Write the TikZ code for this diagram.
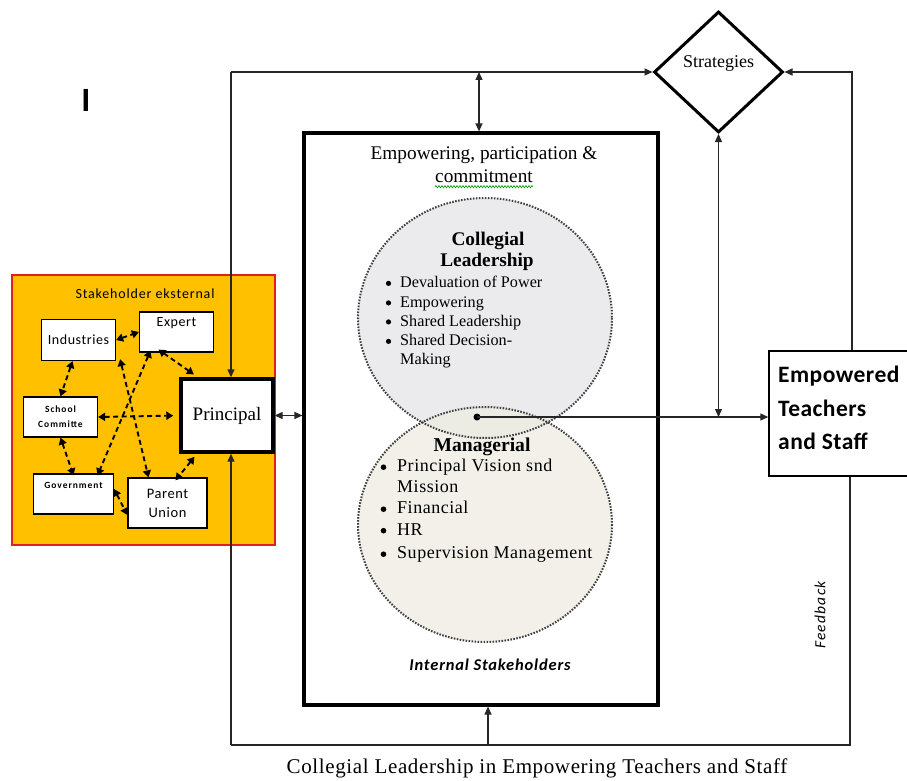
\documentclass[tikz,border=0pt]{standalone}
\usepackage{fontspec}
\setmainfont{Liberation Serif}
\newfontfamily\calfont{Carlito}
\usetikzlibrary{arrows.meta,shapes.geometric,decorations.pathmorphing}
\definecolor{extorange}{HTML}{FFC000}
\definecolor{extred}{HTML}{E02020}
\definecolor{cOne}{HTML}{EBEBED}
\definecolor{cTwo}{HTML}{EDEBE2}
\begin{document}
\begin{tikzpicture}[x=1pt,y=-1pt,
  sbox/.style={draw=black, fill=white, line width=1.2pt, inner sep=1pt, align=center,
    font=\calfont\fontsize{14}{17}\selectfont\addfontfeature{LetterSpace=4}},
  smallbox/.style={sbox, font=\calfont\bfseries\fontsize{9.5}{15}\selectfont\addfontfeature{LetterSpace=10}},
  conn/.style={line width=1.2pt, draw=black!85},
  tip/.style={-{Triangle[length=8pt,width=7pt]}},
  dtip/.style={{Triangle[length=8pt,width=7pt]}-{Triangle[length=8pt,width=7pt]}},
  dasharrow/.style={line width=1.9pt, dash pattern=on 5pt off 3.5pt,
    {Triangle[length=7pt,width=8pt]}-{Triangle[length=7pt,width=8pt]}},
  circtext/.style={inner sep=0pt, anchor=west, text height=0.7em, text depth=0.2em},
  ring/.style={draw=black!75, line width=2pt, dash pattern=on 1.6pt off 1.4pt},
  bul/.style={fill=black},
]
\useasboundingbox (0,0) rectangle (907,781);

% cursor-like letter
\node[font=\calfont\bfseries\fontsize{34}{34}\selectfont, inner sep=0pt] (cursorI) at (86,100) {I};

% external stakeholder panel
\node[draw=extred, fill=extorange, line width=1.2pt, minimum width=263, minimum height=270, inner sep=0pt] (ext) at (143.5,410) {};
\node[font=\calfont\fontsize{14}{16}\selectfont\addfontfeature{LetterSpace=6}, inner sep=0pt] (extlabel) at (145,294) {Stakeholder eksternal};

% outer loop coordinates
\coordinate (tl) at (231,72);
\coordinate (bl) at (231,745);
\coordinate (br) at (850,745);
\coordinate (tr) at (852,72);
\coordinate (topmid) at (479,72);
\coordinate (botmid) at (488,745);

% main nodes
\node[draw, line width=3.4pt, fill=white, minimum width=92, minimum height=73, inner sep=0pt,
  font=\fontsize{19}{22}\selectfont] (prin) at (227,415.5) {Principal};
\node[draw, line width=3.2pt, minimum width=354, minimum height=572, inner sep=0pt] (inner) at (481,419) {};
\node[diamond, draw, line width=3pt, fill=white, minimum width=129, minimum height=121, inner sep=0pt] (str) at (718.5,72) {};
\node[font=\fontsize{18}{20}\selectfont, inner sep=0pt] (strtext) at (718.5,63) {Strategies};
\node[draw, line width=1.4pt, fill=white, minimum width=142, minimum height=125, inner sep=0pt] (emp) at (840,413.5) {};
\node[font=\calfont\bfseries\fontsize{23.5}{33.5}\selectfont\addfontfeature{LetterSpace=2}, align=left, anchor=west, inner sep=0pt] (emptext) at (778,408) {Empowered\\Teachers\\and Staff};

% stakeholder boxes
\node[sbox, minimum width=74, minimum height=41] (ind) at (78.5,340) {Industries};
\node[sbox, minimum width=74, minimum height=40] (exp) at (176.5,332) {Expert\\[-3pt]\strut};
\node[smallbox, minimum width=74, minimum height=40] (sc) at (60.5,417) {School\\Committe};
\node[smallbox, minimum width=80, minimum height=40] (gov) at (73.5,494) {Government\\[-2pt]\strut};
\node[sbox, minimum width=79, minimum height=50, font=\calfont\fontsize{14.5}{19}\selectfont\addfontfeature{LetterSpace=4}] (pu) at (167.5,503) {Parent\\Union};

% dashed relations
\draw[dasharrow] (ind.east) -- (exp.west);
\draw[dasharrow] ([xshift=-6pt]ind.south) -- (sc.north);
\draw[dasharrow] (sc.south) -- ([yshift=-2pt]gov.north);
\draw[dasharrow, shorten >=6pt] (sc.east) -- (prin.west);
\draw[dasharrow] ([xshift=4pt,yshift=2pt]ind.south east) -- ([xshift=-19pt]pu.north);
\draw[dasharrow] ([xshift=-26pt,yshift=2pt]exp.south) -- ([xshift=24pt,yshift=-2pt]gov.north);
\draw[dasharrow, shorten >=5pt] ([xshift=-18pt,yshift=3pt]exp.south) -- ([xshift=-29pt]prin.north);
\draw[dasharrow] ([yshift=5pt]gov.east) -- ([yshift=-12pt]pu.west);
\draw[dasharrow, shorten <=4pt] ([xshift=-30pt]prin.south) -- ([xshift=8pt,yshift=-3pt]pu.north);

% circles
\coordinate (c1) at (485,318);
\coordinate (c2) at (485,524.5);
\fill[cOne] (c1) ellipse [x radius=127, y radius=120];
\fill[cTwo, fill opacity=0.75] (c2) ellipse [x radius=127, y radius=117.5];
\draw[ring] (c1) ellipse [x radius=127, y radius=120];
\draw[ring] (c2) ellipse [x radius=127, y radius=117.5];

% inner box texts
\node[font=\fontsize{19.3}{22}\selectfont, inner sep=0pt] (emp1) at (484,155) {Empowering, participation \&};
\node[font=\fontsize{19.3}{22}\selectfont, inner sep=0pt] (emp2) at (484,176) {commitment};
\draw[green!60!black, line width=0.6pt, decorate, decoration={snake, amplitude=1.1pt, segment length=3pt}] ([yshift=-4pt]emp2.south west) -- ([yshift=-4pt]emp2.south east);

\node[font=\bfseries\fontsize{19.3}{21}\selectfont, inner sep=0pt] (cl1) at (488,241) {Collegial};
\node[font=\bfseries\fontsize{19.3}{21}\selectfont, inner sep=0pt] (cl2) at (487,262) {Leadership};
\foreach \t/\y [count=\i] in {Devaluation of Power/285, Empowering/304.5, Shared Leadership/323.5, Shared Decision-/343}{
  \node[circtext, font=\fontsize{16.2}{18}\selectfont] (clb\i) at (400,\y) {\t};
  \fill[bul] ([xshift=-11.5pt,yshift=1.6pt]clb\i.west) circle (2.6pt);
}
\node[circtext, font=\fontsize{16.2}{18}\selectfont] (clb5) at (400,362) {Making};

\node[font=\bfseries\fontsize{19.6}{22}\selectfont, inner sep=0pt] (mg) at (482,447) {Managerial};
\foreach \t/\y [count=\i] in {Principal Vision snd/469, Financial/511, HR/532.5, Supervision Management/556}{
  \node[circtext, font=\fontsize{18}{21}\selectfont\addfontfeature{LetterSpace=3}] (mgb\i) at (397,\y) {\t};
  \fill[bul] ([xshift=-13.5pt,yshift=1.8pt]mgb\i.west) circle (2.8pt);
}
\node[circtext, font=\fontsize{18}{21}\selectfont\addfontfeature{LetterSpace=3}] (mgb5) at (397,490) {Mission};

\node[font=\calfont\bfseries\itshape\fontsize{16.5}{18}\selectfont\addfontfeature{LetterSpace=5}, inner sep=0pt] (intl) at (490,665) {Internal Stakeholders};

% loop connectors
\draw[conn, tip] (tl) -- (str.west);
\draw[conn, tip] (tl) -- (tl |- prin.north);
\draw[conn, tip] (bl) -- (bl |- prin.south);
\draw[conn] (emp.south -| br) -- (br) -- (bl);
\draw[conn, tip] (emp.north -| tr) -- (tr) -- (str.east);
\draw[conn, dtip] (topmid) -- (topmid |- inner.north);
\draw[conn, tip] (botmid) -- (botmid |- inner.south);
\draw[conn, dtip] (prin.east) -- (inner.west |- prin.east);

% centre dot to empowered staff
\coordinate (dot) at (477,417);
\fill (dot) circle (3.5pt);
\draw[conn, tip] (dot) -- (dot -| emp.west);
\draw[conn, dtip] (str.south) -- (str.south |- dot);

\node[font=\calfont\itshape\fontsize{15.5}{16}\selectfont\addfontfeature{LetterSpace=8}, rotate=90, inner sep=0pt] (fb) at (820,615) {Feedback};

\node[font=\fontsize{21}{24}\selectfont\addfontfeature{LetterSpace=3}, inner sep=0pt] (caption) at (537,768) {Collegial Leadership in Empowering Teachers and Staff};
\end{tikzpicture}
\end{document}
